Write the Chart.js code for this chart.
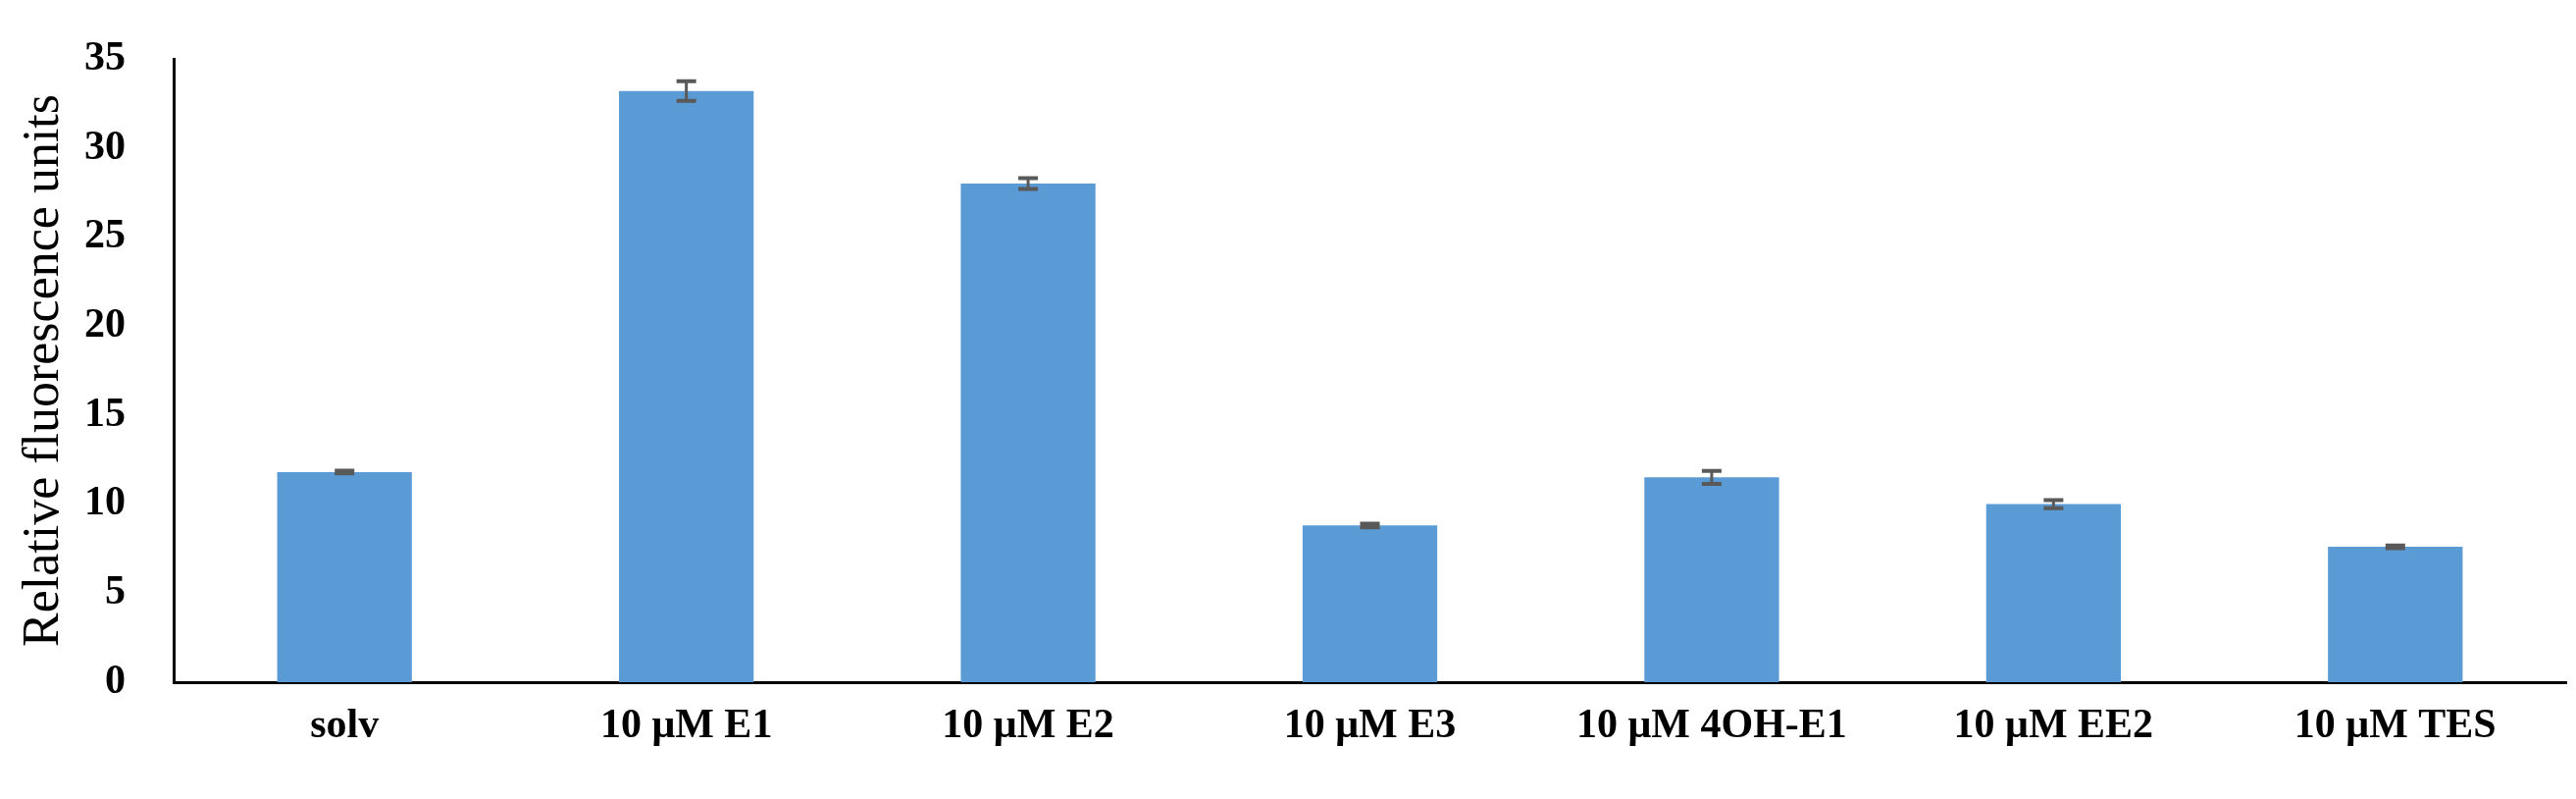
<!DOCTYPE html>
<html>
<head>
<meta charset="utf-8">
<script src="https://cdn.jsdelivr.net/npm/chart.js@4.4.0/dist/chart.umd.min.js"></script>
<style>
  html, body { margin: 0; padding: 0; background: #fff; }
  #wrap { width: 2626px; height: 814px; position: relative; }
</style>
</head>
<body>
<div id="wrap"><canvas id="chart"></canvas></div>
<script>
// values
const categories = ["solv", "10 \u03bcM E1", "10 \u03bcM E2", "10 \u03bcM E3", "10 \u03bcM 4OH-E1", "10 \u03bcM EE2", "10 \u03bcM TES"];
const meanValues = [11.8, 33.2, 28.0, 8.8, 11.5, 10.0, 7.6];
const errValues = [0.08, 0.55, 0.3, 0.1, 0.37, 0.23, 0.07];
const yMin = 0, yMax = 35, yStep = 5;

const BAR_COLOR = "#5B9BD5";
const ERR_COLOR = "#595959";
const FONT = "'Liberation Serif', 'Times New Roman', serif";

const errorBarPlugin = {
    id: "errorBars",
    afterDatasetsDraw(chart) {
        const ctx = chart.ctx;
        const yScale = chart.scales.y;
        const meta = chart.getDatasetMeta(0);
        ctx.save();
        ctx.strokeStyle = ERR_COLOR;
        meta.data.forEach((bar, i) => {
            let top = yScale.getPixelForValue(meanValues[i] + errValues[i]);
            let bottom = yScale.getPixelForValue(meanValues[i] - errValues[i]);
            let x = bar.x;
            ctx.lineWidth = 3;
            ctx.beginPath();
            ctx.moveTo(x, top); ctx.lineTo(x, bottom);
            ctx.stroke();
            ctx.lineWidth = 4;
            ctx.beginPath();
            ctx.moveTo(x - 10, top); ctx.lineTo(x + 10, top);
            ctx.moveTo(x - 10, bottom); ctx.lineTo(x + 10, bottom);
            ctx.stroke();
        });
        ctx.restore();
    }
};

let chartConfig = {
    type: "bar",
    data: {
        labels: categories,
        datasets: [{
            data: meanValues,
            backgroundColor: BAR_COLOR,
            borderWidth: 0,
            barPercentage: 1.0,
            categoryPercentage: 0.394
        }]
    },
    options: {
        responsive: true,
        maintainAspectRatio: false,
        animation: false,
        layout: { padding: { left: 0, right: 10, top: 60, bottom: 0 } },
        plugins: { legend: { display: false }, tooltip: { enabled: false } },
        scales: {
            x: {
                grid: { display: false, drawTicks: false },
                border: { display: true, color: "#000", width: 3 },
                ticks: {
                    color: "#000",
                    padding: 20,
                    maxRotation: 0,
                    font: { family: FONT, size: 42, weight: "bold" }
                },
                afterFit: (scale) => { scale.height = 119; }
            },
            y: {
                min: yMin,
                max: yMax,
                grid: { display: false, drawTicks: false },
                border: { display: true, color: "#000", width: 3 },
                ticks: {
                    stepSize: yStep,
                    color: "#000",
                    padding: 49,
                    font: { family: FONT, size: 42, weight: "bold" }
                },
                title: {
                    display: true,
                    text: "Relative fluorescence units",
                    color: "#000",
                    padding: { top: 14, bottom: 0 },
                    font: { family: FONT, size: 52 }
                },
                afterFit: (scale) => {
                    // tick padding is for the horizontal gap only, not the top/bottom reserve
                    scale.width = 177;
                    scale.paddingTop = 0;
                    scale.paddingBottom = 0;
                }
            }
        }
    },
    plugins: [errorBarPlugin]
};

new Chart(document.getElementById("chart").getContext("2d"), chartConfig);
</script>
</body>
</html>
